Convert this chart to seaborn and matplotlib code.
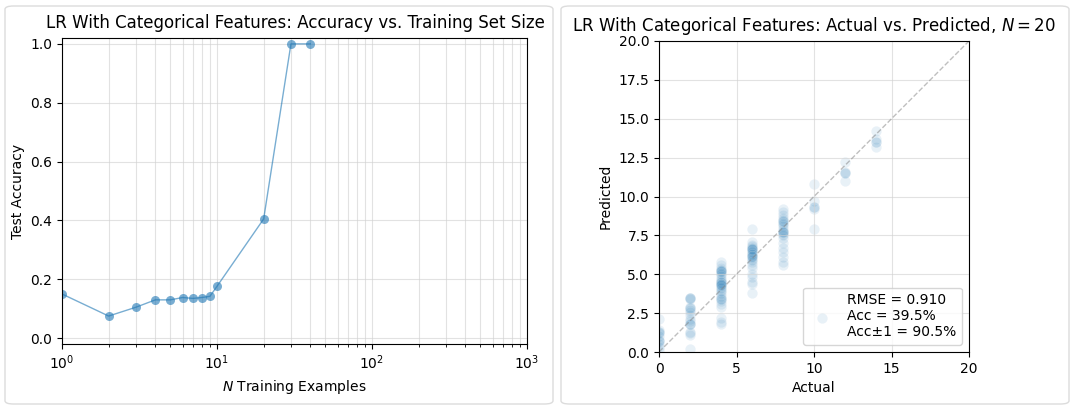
import matplotlib
matplotlib.use("Agg")
import matplotlib.pyplot as plt
import seaborn as sns
import pandas as pd
from matplotlib.patches import FancyBboxPatch

# accuracy vs training set size
n_train = [1, 2, 3, 4, 5, 6, 7, 8, 9, 10, 20, 30, 40]
test_acc = [0.150, 0.075, 0.105, 0.130, 0.130, 0.138, 0.135, 0.138, 0.142, 0.176, 0.405, 1.0, 1.0]

# actual vs predicted for N = 20 (predictions per actual value)
pred_by_actual = {
    0: [2.1, 1.4, 1.3, 1.3, 1.2, 1.0, 0.8, 0.7, 0.7, 0.5, 0.3, 0.1],
    2: [3.5, 3.5, 3.5, 3.4, 2.9, 2.8, 2.8, 2.7, 2.6, 2.4, 2.1, 2.0, 1.8, 1.8, 1.8,
        1.3, 1.2, 1.1, 0.2],
    4: [5.8, 5.6, 5.4, 5.3, 5.3, 5.2, 5.2, 5.2, 5.1, 5.0, 4.9, 4.7, 4.6, 4.5, 4.5,
        4.5, 4.4, 4.4, 4.4, 4.3, 4.3, 4.2, 4.1, 4.0, 3.9, 3.8, 3.6, 3.5, 3.4, 3.4,
        3.3, 3.1, 2.9, 2.2, 1.9, 1.8],
    6: [7.9, 7.1, 6.9, 6.8, 6.7, 6.7, 6.6, 6.6, 6.6, 6.5, 6.4, 6.3, 6.3, 6.2, 6.2,
        6.2, 6.1, 6.0, 5.9, 5.8, 5.6, 5.4, 5.0, 4.8, 4.5, 4.4, 3.8],
    8: [9.2, 9.0, 8.8, 8.6, 8.5, 8.4, 8.4, 8.3, 8.2, 8.1, 7.9, 7.8, 7.7, 7.7, 7.7,
        7.6, 7.5, 7.3, 7.0, 6.7, 6.4, 6.1, 5.8, 5.6],
    10: [10.8, 9.7, 9.3, 9.3, 9.2, 7.9],
    12: [12.2, 11.6, 11.5, 11.5, 11.0],
    14: [14.2, 13.7, 13.5, 13.5, 13.2],
}
rmse_txt = "RMSE = 0.910\nAcc = 39.5%\nAcc\u00b11 = 90.5%"

actual = []
predicted = []
for a, preds in pred_by_actual.items():
    actual += [a] * len(preds)
    predicted += preds
scatter_df = pd.DataFrame({"Actual": actual, "Predicted": predicted})
curve_df = pd.DataFrame({"n": n_train, "acc": test_acc})

plt.rcParams["font.family"] = ["DejaVu Sans"]
fig = plt.figure(figsize=(10.74, 4.09), dpi=100)

# notebook-style panel frames
for x0, w in [(5, 548), (561, 508)]:
    box = FancyBboxPatch((x0 / 1074, 5 / 409), w / 1074, 398 / 409,
                         boxstyle="round,pad=0,rounding_size=0.008",
                         transform=fig.transFigure, facecolor="white",
                         edgecolor="#dcdcdc", linewidth=1, zorder=-10)
    fig.patches.append(box)

ax1 = fig.add_axes([62 / 1074, 1 - 344 / 409, 465 / 1074, 306 / 409])
sns.lineplot(data=curve_df, x="n", y="acc", marker="o", markersize=6.5,
             linewidth=1, alpha=0.6, color="C0", markeredgewidth=0, ax=ax1)
ax1.set_xscale("log")
ax1.set_xlim(1, 1000)
ax1.set_ylim(-0.02, 1.02)
ax1.grid(True, which="both", color="#d0d0d0", alpha=0.6, linewidth=0.8)
ax1.set_title("LR With Categorical Features: Accuracy vs. Training Set Size",
              fontsize=12, x=0.503, pad=7)
ax1.set_xlabel("$N$ Training Examples")
ax1.set_ylabel("Test Accuracy")

ax2 = fig.add_axes([659 / 1074, 1 - 352 / 409, 310 / 1074, 311 / 409])
sns.scatterplot(data=scatter_df, x="Actual", y="Predicted", s=55, alpha=0.1,
                color="C0", edgecolor="white", linewidth=0.5, label=rmse_txt, ax=ax2)
ax2.plot([0, 20], [0, 20], linestyle="--", color="gray", alpha=0.5, linewidth=1)
ax2.set_xlim(0, 20)
ax2.set_ylim(0, 20)
ax2.set_xticks([0, 5, 10, 15, 20])
ax2.grid(True, color="#d0d0d0", alpha=0.6, linewidth=0.8)
ax2.set_title("LR With Categorical Features: Actual vs. Predicted, $N = 20$",
              fontsize=12, pad=7)
ax2.legend(loc="lower right")

fig.savefig("out.png", dpi=100)
